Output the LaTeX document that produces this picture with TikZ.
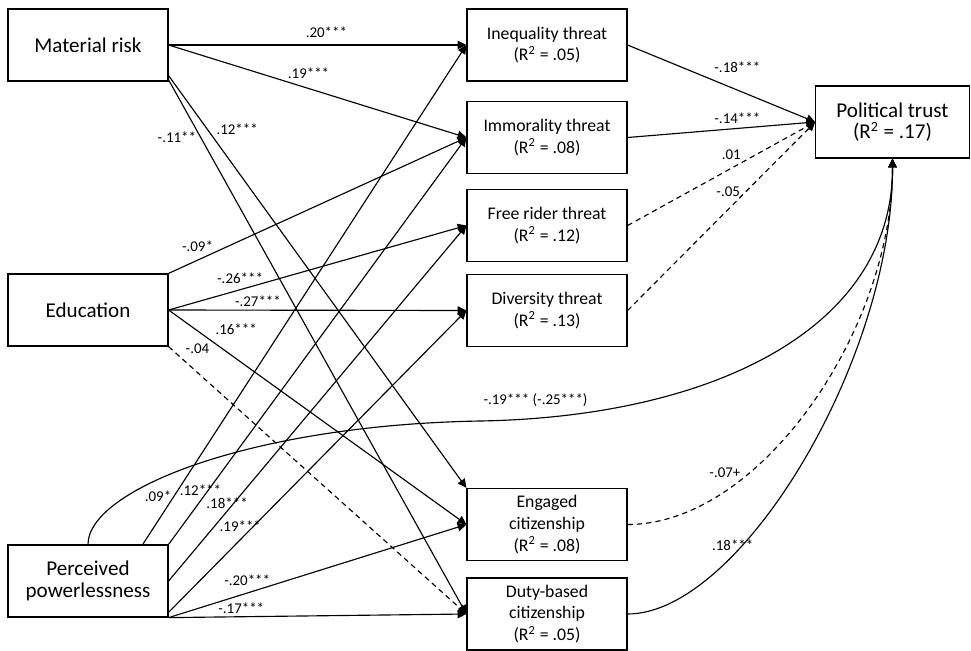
\documentclass[tikz,border=0pt]{standalone}
\usepackage{fontspec}
\setmainfont{Carlito}
\usetikzlibrary{arrows.meta}

\tikzset{
    box/.style={draw,line width=0.7pt,minimum width=3.2cm,minimum height=1.44cm,align=center,inner sep=1pt,font=\fontsize{12}{12.3}\selectfont},
    midbox/.style={box,font=\fontsize{10.1}{12.3}\selectfont},
    lbl/.style={inner sep=0pt,font=\fontsize{8.5}{10}\selectfont},
    link/.style={line width=0.65pt,-{Triangle[length=5pt,width=4.8pt]}},
    nslink/.style={link,dash pattern=on 3pt off 2.3pt}
}

\begin{document}
\begin{tikzpicture}[x=0.02cm,y=-0.02cm]
        \useasboundingbox (0,0) rectangle (971,650);

        \node (mr) at (88,45) [box] {Material risk};
        \node (edu) at (88,310) [box] {Education};
        \node (pp) at (88,581) [box] {Perceived\\powerlessness};

        \node (ineq) at (547,45) [midbox] {Inequality threat\\(R\textsuperscript{2} = .05)};
        \node (immor) at (547,137.5) [midbox] {Immorality threat\\(R\textsuperscript{2} = .08)};
        \node (free) at (547,225.5) [midbox] {Free rider threat\\(R\textsuperscript{2} = .12)};
        \node (div) at (547,310.5) [midbox] {Diversity threat\\(R\textsuperscript{2} = .13)};
        \node (eng) at (547,524.5) [midbox] {Engaged\\citizenship\\(R\textsuperscript{2} = .08)};
        \node (duty) at (547,614) [midbox] {Duty-based\\citizenship\\(R\textsuperscript{2} = .05)};

        \node (pt) at (892.5,122) [box,minimum width=3.07cm] {Political trust\\(R\textsuperscript{2} = .17)};

        % material risk
        \draw[link] (mr.east) to node[lbl,pos=.53,yshift=7.4pt]{.20***} (ineq.west);
        \draw[link] (mr.east) to node[lbl,pos=.47,yshift=8.5pt]{.19***} (immor.west);
        \draw[link] ([yshift=3.4pt]mr.south east) to node[lbl,pos=.13,xshift=17pt]{.12***} (eng.north west);
        \draw[link] ([yshift=1pt]mr.south east) to node[lbl,pos=.108,xshift=-13.6pt]{-.11**} (duty.west);

        % education
        \draw[link] (edu.north east) to node[lbl,pos=.097,yshift=8pt]{-.09*} (immor.west);
        \draw[link] (edu.east) to node[lbl,pos=.24,yshift=6.8pt]{-.26***} (free.west);
        \draw[link] (edu.east) to node[lbl,pos=.30,yshift=5.1pt]{-.27***} (div.west);
        \draw[link] (edu.east) to node[lbl,pos=.227,yshift=17pt]{.16***} (eng.west);
        \draw[nslink] (edu.south east) to node[lbl,pos=.097,yshift=13.6pt]{-.04} (duty.west);

        % perceived powerlessness
        \draw[link] ([xshift=-14.7pt]pp.north east) to node[lbl,pos=.096,xshift=-9pt]{.09*} (ineq.west);
        \draw[link] (pp.north east) to node[lbl,pos=.133,xshift=-4.4pt]{.12***} (immor.west);
        \draw[link] (pp.east) to node[lbl,pos=.22,xshift=-4pt]{.18***} (free.west);
        \draw[link] ([yshift=3pt]pp.south east) to node[lbl,pos=.285,xshift=-7.5pt]{.19***} (div.west);
        \draw[link] (pp.south east) to node[lbl,pos=.264,yshift=7.1pt]{-.20***} (eng.west);
        \draw[link] (pp.south east) to node[lbl,pos=.244,yshift=5pt]{-.17***} (duty.west);
        \draw[link] (pp.north) .. controls (88,490) and (250,425) .. (480,421)
            .. controls (710,417) and (893,330) .. node[lbl,pos=.1,xshift=-6.8pt,yshift=9.6pt]{-.19*** (-.25***)} (pt.south);

        % to political trust
        \draw[link] (ineq.east) to node[lbl,pos=.585,yshift=13pt]{-.18***} (pt.west);
        \draw[link] (immor.east) to node[lbl,pos=.585,yshift=5.7pt]{-.14***} (pt.west);
        \draw[nslink] (free.east) to node[lbl,pos=.553,yshift=7.5pt]{.01} (pt.west);
        \draw[nslink] (div.east) to node[lbl,pos=.63,xshift=-10pt]{-.05} (pt.west);
        \draw[nslink] (eng.east) .. controls (760,524.5) and (893,330) .. node[lbl,pos=.25,yshift=10.8pt]{-.07+} (pt.south);
        \draw[link] (duty.east) .. controls (740,614) and (893,360) .. node[lbl,pos=.3,xshift=-1pt,yshift=5pt]{.18***} (pt.south);
    \end{tikzpicture}
\end{document}
